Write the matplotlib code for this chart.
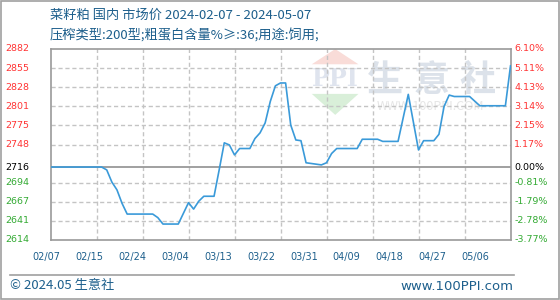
import datetime as dt

import matplotlib
matplotlib.use("Agg")
import matplotlib.pyplot as plt
import matplotlib.dates as mdates
import numpy as np
from matplotlib.patches import Polygon, Rectangle

plt.rcParams["font.family"] = ["Noto Sans CJK SC", "DejaVu Sans"]

# ---------- data ----------
dates = ["02-07", "02-17", "02-18", "02-19", "02-20", "02-21", "02-22", "02-27",
         "02-28", "02-29", "03-03", "03-05", "03-06", "03-07", "03-08", "03-10",
         "03-11", "03-12", "03-13", "03-14", "03-15", "03-17", "03-18", "03-19",
         "03-20", "03-21", "03-22", "03-23", "03-24", "03-25", "03-26", "03-27",
         "03-28", "03-31", "04-01", "04-02", "04-03", "04-07", "04-08", "04-11",
         "04-12", "04-15", "04-17", "04-19", "04-20", "04-22", "04-23", "04-24",
         "04-25", "04-26", "04-29", "05-01", "05-06", "05-07"]
prices = [2716, 2716, 2712, 2695, 2684, 2665, 2650, 2650,
          2645, 2636, 2636, 2666, 2657, 2668, 2675, 2675,
          2712, 2750, 2747, 2733, 2742, 2742, 2756, 2764,
          2778, 2808, 2830, 2834, 2834, 2775, 2754, 2753,
          2722, 2719, 2722, 2735, 2742, 2742, 2755, 2755,
          2752, 2752, 2818, 2740, 2753, 2753, 2762, 2801,
          2817, 2815, 2815, 2802, 2802, 2858]

base_price = 2716
pct_top = 6.10
pct_bottom = -3.77
left_labels = ["2614", "2641", "2667", "2694", "2716", "2748", "2775",
               "2801", "2828", "2855", "2882"]
right_labels = ["-3.77%", "-2.78%", "-1.79%", "-0.81%", "0.00%", "1.17%",
                "2.15%", "3.14%", "4.13%", "5.11%", "6.10%"]
x_labels = ["02/07", "02/15", "02/24", "03/04", "03/13", "03/22", "03/31",
            "04/09", "04/18", "04/27", "05/06"]

title1 = "菜籽粕 国内 市场价 2024-02-07 - 2024-05-07"
title2 = "压榨类型:200型;粗蛋白含量%≥:36;用途:饲用;"

# ---------- colours ----------
BLUE_TXT = "#1d5f8c"
LINE = "#3a9ad9"
RED = "#ff3333"
GREEN = "#33aa33"
GRID = "#c4c4c4"

x = mdates.date2num([dt.datetime.strptime("2024-" + d, "%Y-%m-%d") for d in dates])
start = mdates.date2num(dt.datetime(2024, 2, 7))
end = mdates.date2num(dt.datetime(2024, 5, 7))

y_lo = base_price * (1 + pct_bottom / 100)
y_hi = base_price * (1 + pct_top / 100)

fig = plt.figure(figsize=(5.6, 3.0), dpi=100)
fig.patches.append(Rectangle((0.001, 0.002), 0.997, 0.995, transform=fig.transFigure,
                             fill=False, edgecolor="#a0a0a0", linewidth=1.2))

ax = fig.add_axes([50.5 / 560, 60 / 300, 460 / 560, 191 / 300])
ax.set_xlim(start, end)
ax.set_ylim(y_lo, y_hi)

# grid: 10 equal steps, the one next to zero is replaced by the base line
levels = np.linspace(y_lo, y_hi, 11)
hgrid = [lv for i, lv in enumerate(levels[1:-1], start=1) if i != 4]
vgrid = np.linspace(start, end, 11)[1:-1]
ax.set_yticks(hgrid)
ax.set_xticks(vgrid)
ax.tick_params(length=0, labelleft=False, labelbottom=False)
ax.grid(True, color=GRID, linestyle="--", dashes=(3, 2), linewidth=1.0)
ax.set_axisbelow(True)
ax.axhline(base_price, color="#999999", linewidth=1.3, zorder=2)

# watermark
wm = dict(transform=ax.transAxes, color="#dce2ea", fontsize=26,
          fontweight="bold", ha="center", va="center", zorder=0)
ax.text(0.727, 0.835, "生", **wm)
ax.text(0.828, 0.835, "意", **wm)
ax.text(0.928, 0.835, "社", **wm)
ax.text(0.826, 0.70, "WWW.100PPI.COM", transform=ax.transAxes, color="#e6e6e6",
        fontsize=9, ha="center", va="center", zorder=0)
ax.add_patch(Polygon([(0.568, 0.92), (0.6695, 0.92), (0.619, 1.0)], closed=True,
                     transform=ax.transAxes, facecolor="#f9dcd8", edgecolor="none", zorder=0))
ax.add_patch(Polygon([(0.568, 0.765), (0.6695, 0.765), (0.619, 0.655)], closed=True,
                     transform=ax.transAxes, facecolor="#d9efd9", edgecolor="none", zorder=0))
ax.text(0.619, 0.845, "PPI", transform=ax.transAxes, color="#dfe4ee", fontsize=17,
        fontweight="bold", family="DejaVu Serif", ha="center", va="center", zorder=0)

ax.plot(x, prices, color=LINE, linewidth=1.2, zorder=3)

for s in ax.spines.values():
    s.set_color("#999999")
    s.set_linewidth(1.2)

# y labels, left and right
for i, lv in enumerate(levels):
    yv = base_price if i == 4 else lv
    col = RED if i > 4 else ("black" if i == 4 else GREEN)
    ax.text(-0.098, yv, left_labels[i], transform=ax.get_yaxis_transform(),
            ha="left", va="center", color=col, fontsize=6.8, family="DejaVu Sans")
    ax.text(1.008, yv, right_labels[i], transform=ax.get_yaxis_transform(),
            ha="left", va="center", color=col, fontsize=6.8, family="DejaVu Sans")

# x labels are spaced a bit tighter than the grid in the reference
for k, lab in enumerate(x_labels):
    ax.text(-0.008 + 0.0931 * k, -0.087, lab, transform=ax.transAxes,
            ha="center", va="center", color=BLUE_TXT, fontsize=7, family="DejaVu Sans")

fig.text(50 / 560, 1 - 15 / 300, title1, color=BLUE_TXT, fontsize=9.5,
         ha="left", va="center")
fig.text(50 / 560, 1 - 35 / 300, title2, color=BLUE_TXT, fontsize=9.5,
         ha="left", va="center")

fig.add_artist(plt.Line2D([10 / 560, 514 / 560], [1 - 275 / 300] * 2,
                          transform=fig.transFigure, color="#a0a0a0", linewidth=1.2))
fig.text(10 / 560, 1 - 286 / 300, "© 2024.05 生意社", color=BLUE_TXT, fontsize=9.5,
         ha="left", va="center")
fig.text(513 / 560, 1 - 286 / 300, "www.100PPI.com", color=BLUE_TXT, fontsize=9.5,
         ha="right", va="center", family="DejaVu Sans")

fig.savefig("out.png", dpi=100)
